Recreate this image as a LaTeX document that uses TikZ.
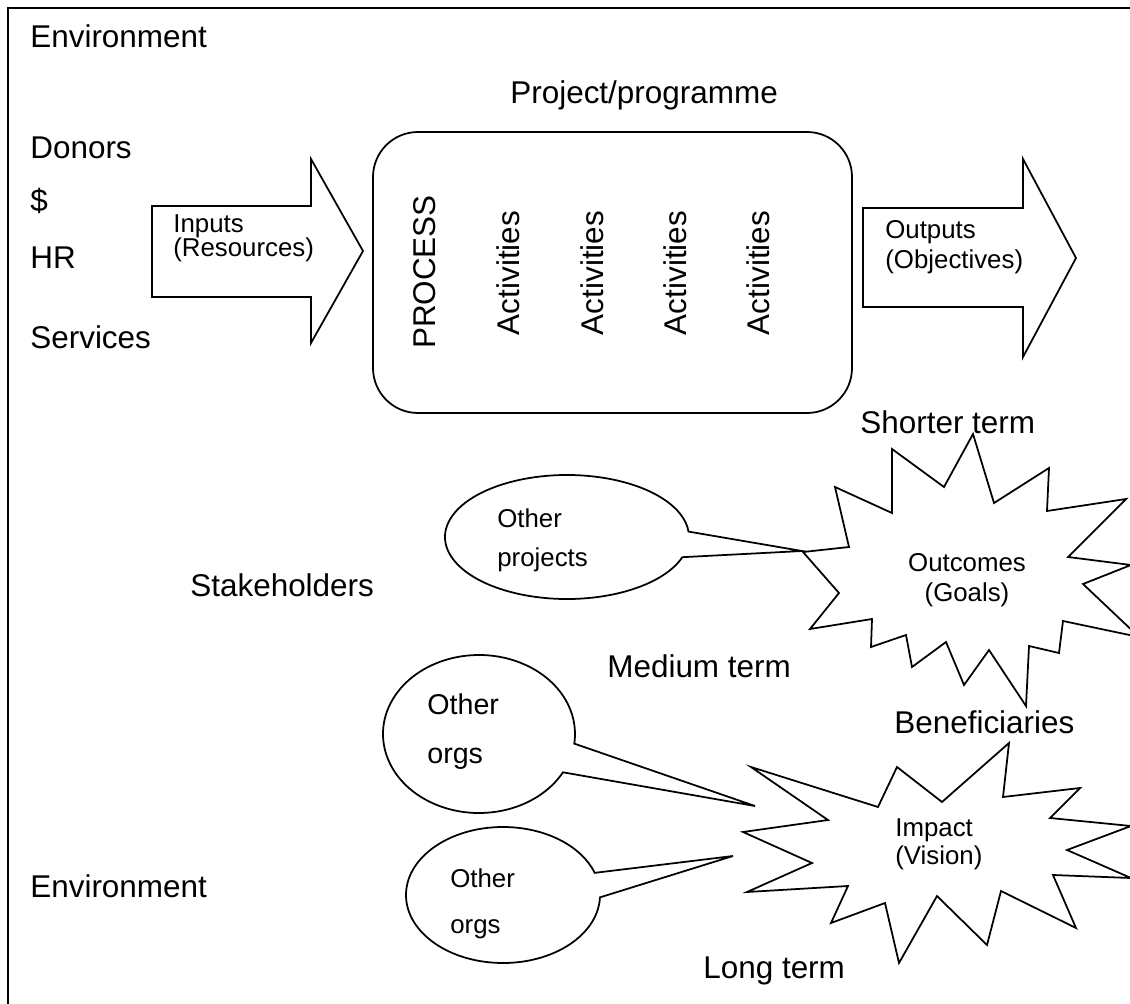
\documentclass[tikz,border=0pt]{standalone}
\usepackage{fontspec}
\setmainfont{Liberation Sans}
\usetikzlibrary{calc}

\newcommand{\largetxt}{\fontsize{17.9}{21}\selectfont}
\newcommand{\txtsize}[2]{\fontsize{#1}{#2}\selectfont\lineskiplimit=-50pt\relax}

\tikzset{
	lbl/.style={inner sep=0pt, anchor=base west, font=\largetxt},
	note/.style={inner sep=0pt, anchor=north west, align=left},
	vert/.style={inner sep=0pt, rotate=90, font=\largetxt},
	shapeline/.style={draw, line width=1pt, fill=white, line join=miter},
}

\begin{document}
\begin{tikzpicture}[x=0.02cm, y=-0.02cm]
		\useasboundingbox (0,0) rectangle (1130,1004);
		\clip (0,0) rectangle (1130,1004);
		\draw[line width=1.2pt] (8,8) rectangle (1150,1020);
		\draw[shapeline] (152,206) -- (311,206) -- (311,159) -- (363,251) -- (311,343) -- (311,297) -- (152,297) -- cycle;
		\draw[shapeline, rounded corners=0.9cm] (373,132) rectangle (852,413);
		\draw[shapeline] (863,208) -- (1023,208) -- (1023,159) -- (1076,258) -- (1023,357) -- (1023,307) -- (863,307) -- cycle;
		\draw[shapeline] ($(567,537)+(19:122 and 62)$) arc[start angle=19, end angle=355, x radius=122, y radius=62] -- (802,551) -- cycle;
		\draw[shapeline] ($(479,734)+(29:96 and 79)$) arc[start angle=29, end angle=367, x radius=96, y radius=79] -- (755,806) -- cycle;
		\draw[shapeline] ($(503,895)+(2:97 and 68)$) arc[start angle=2, end angle=341, x radius=97, y radius=68] -- (733,856) -- cycle;
		\draw[shapeline] (803,552) -- (849,547) -- (835,487) -- (892,513) -- (892,449) -- (944,487) -- (973,434) -- (994,503) -- (1049,468) -- (1047,511) -- (1126,499) -- (1068,557) -- (1131,565) -- (1083,584) -- (1139,637) -- (1063,621) -- (1059,653) -- (1029,646) -- (1026,706) -- (989,650) -- (964,685) -- (946,642) -- (912,667) -- (906,635) -- (871,647) -- (872,619) -- (810,629) -- (839,593) -- cycle;
		\draw[shapeline] (751,767) -- (828,820) -- (743,832) -- (812,863) -- (747,892) -- (848,886) -- (831,923) -- (885,903) -- (899,963) -- (937,896) -- (987,945) -- (1001,891) -- (1076,928) -- (1053,875) -- (1131,878) -- (1067,850) -- (1131,826) -- (1050,818) -- (1080,788) -- (1003,797) -- (1009,743) -- (942,802) -- (897,767) -- (878,807) -- cycle;
		\node[lbl] (envtop) at (30,48) {Environment};
		\node[lbl] (donors) at (30,158) {Donors};
		\node[lbl] (money) at (30,211) {\$};
		\node[lbl] (hr) at (30,268) {HR};
		\node[lbl] (services) at (30,348) {Services};
		\node[lbl] (projtitle) at (510,103) {Project/programme};
		\node[note, font={\txtsize{14.7}{14}}] (inputs) at (173,214) {Inputs\\(Resources)};
		\node[note, font={\txtsize{14.7}{17}}] (outputs) at (885,220) {Outputs\\(Objectives)};
		\node[vert] (process) at (425,272) {PROCESS};
		\foreach \x/\n in {508/a,592/b,675/c,758/d}
			\node[vert] (act\n) at (\x,273) {Activities};
		\node[lbl] (shorter) at (860,433) {Shorter term};
		\node[note, align=center, anchor=north, font={\txtsize{14.7}{17}}] (outcomes) at (967,553) {Outcomes\\(Goals)};
		\node[lbl] (stake) at (190,596) {Stakeholders};
		\node[note, font={\txtsize{14.7}{22.2}}] (othproj) at (497,508) {Other\\projects};
		\node[lbl] (medium) at (607,677) {Medium term};
		\node[lbl] (benef) at (894,733) {Beneficiaries};
		\node[note, font={\txtsize{16.3}{27.9}}] (orgsa) at (427,693) {Other\\orgs};
		\node[note, font={\txtsize{14.7}{26.2}}] (orgsb) at (450,868) {Other\\orgs};
		\node[note, font={\txtsize{14.7}{16}}] (impact) at (895,818) {Impact\\(Vision)};
		\node[lbl] (envbottom) at (30,897) {Environment};
		\node[lbl] (longterm) at (703,978) {Long term};
\end{tikzpicture}
\end{document}
